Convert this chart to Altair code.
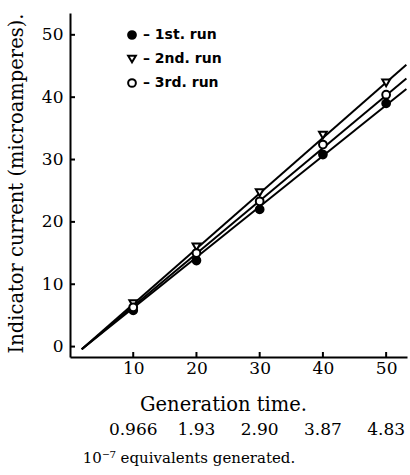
import altair as alt
import pandas as pd

# ---- data ----
gen_time = [10, 20, 30, 40, 50]
run1 = [5.8, 13.8, 22.0, 30.8, 39.0]   # 1st run, filled circles
run2 = [6.9, 16.0, 24.7, 33.9, 42.3]   # 2nd run, triangles
run3 = [6.3, 15.0, 23.3, 32.4, 40.4]   # 3rd run, open circles
runs = ["1st. run", "2nd. run", "3rd. run"]

# fitted straight lines (start / end)
line_x = [1.85, 53.2]
line1_y = [-0.43, 41.3]
line2_y = [-0.43, 45.2]
line3_y = [-0.43, 43.0]

equivalents = ["0.966", "1.93", "2.90", "3.87", "4.83"]
x_ticks = [10, 20, 30, 40, 50]
y_ticks = [0, 10, 20, 30, 40, 50]

# ---- tables ----
pts = pd.DataFrame({
    "gen": gen_time * 3,
    "current": run1 + run2 + run3,
    "run": [runs[0]] * 5 + [runs[1]] * 5 + [runs[2]] * 5,
})
lines = pd.DataFrame({
    "gen": line_x * 3,
    "current": line1_y + line2_y + line3_y,
    "run": [runs[0]] * 2 + [runs[1]] * 2 + [runs[2]] * 2,
})
eq = pd.DataFrame({"gen": gen_time, "eq": equivalents})
xt = pd.DataFrame({"gen": x_ticks})
yt = pd.DataFrame({"current": y_ticks})
foot = pd.DataFrame({"label": ["10\u207b\u2077 equivalents generated."]})

W, H = 337, 344
SERIF = "DejaVu Serif"
xs = alt.Scale(domain=[0, 53.3], nice=False, zero=False)
ys = alt.Scale(domain=[-1.67, 53.5], nice=False, zero=False)
XT = "Generation time."
YT = "Indicator current (microamperes)."
x_axis = alt.Axis(values=x_ticks, ticks=False, grid=False, labelPadding=3,
                  titlePadding=19, titleX=153)
y_axis = alt.Axis(values=y_ticks, ticks=False, grid=False, labelPadding=7,
                  titlePadding=15, titleY=170)


def X(f):
    return alt.X(f, scale=xs, title=XT, axis=x_axis)


def Y(f):
    return alt.Y(f, scale=ys, title=YT, axis=y_axis)


line_layer = alt.Chart(lines).mark_line(color="black", strokeWidth=2).encode(
    x=X("gen:Q"), y=Y("current:Q"), detail="run:N",
)

legend = alt.Legend(
    title=None, orient="none", legendX=55, legendY=15,
    labelExpr="'\u2013 ' + datum.label",
    symbolStrokeColor="black", symbolStrokeWidth=2, symbolOpacity=1,
)
point_layer = alt.Chart(pts).mark_point(
    opacity=1, strokeWidth=2, filled=False, size=60
).encode(
    x=X("gen:Q"), y=Y("current:Q"),
    shape=alt.Shape("run:N", scale=alt.Scale(domain=runs,
                    range=["circle", "triangle-down", "circle"]), legend=legend),
    fill=alt.Fill("run:N", scale=alt.Scale(domain=runs,
                  range=["black", "white", "white"]), legend=legend),
    stroke=alt.Stroke("run:N", scale=alt.Scale(domain=runs,
                      range=["black", "black", "black"]), legend=legend),
)

xtick_layer = alt.Chart(xt).mark_rule(color="black", strokeWidth=2).encode(
    x=X("gen:Q"), y=alt.value(H), y2=alt.value(H - 5),
)
ytick_layer = alt.Chart(yt).mark_rule(color="black", strokeWidth=2).encode(
    y=Y("current:Q"), x=alt.value(0), x2=alt.value(5),
)

eq_layer = alt.Chart(eq).mark_text(font=SERIF, fontSize=17, color="black",
                                   baseline="middle").encode(
    x=X("gen:Q"), y=alt.value(417), text="eq:N",
)
foot_layer = alt.Chart(foot).mark_text(font=SERIF, fontSize=15, color="black",
                                       baseline="middle").encode(
    x=alt.value(119), y=alt.value(445), text="label:N",
)

chart = alt.layer(
    line_layer, point_layer, xtick_layer, ytick_layer, eq_layer, foot_layer
).properties(
    width=W, height=H,
    autosize=alt.AutoSizeParams(type="none"),
    padding={"left": 70, "top": 13, "right": 3, "bottom": 118},
    background="white",
).configure_view(stroke=None).configure_axis(
    domainColor="black", domainWidth=2,
    labelFont=SERIF, labelFontSize=17, labelColor="black",
    titleFont=SERIF, titleFontSize=19.5, titleFontWeight="normal", titleColor="black",
).configure_legend(
    labelFont="DejaVu Sans", labelFontWeight="bold", labelFontSize=14,
    labelColor="black", symbolSize=60, rowPadding=8, labelOffset=4, padding=0,
)

chart.save("out.html", embed_options={"renderer": "svg", "actions": False})
